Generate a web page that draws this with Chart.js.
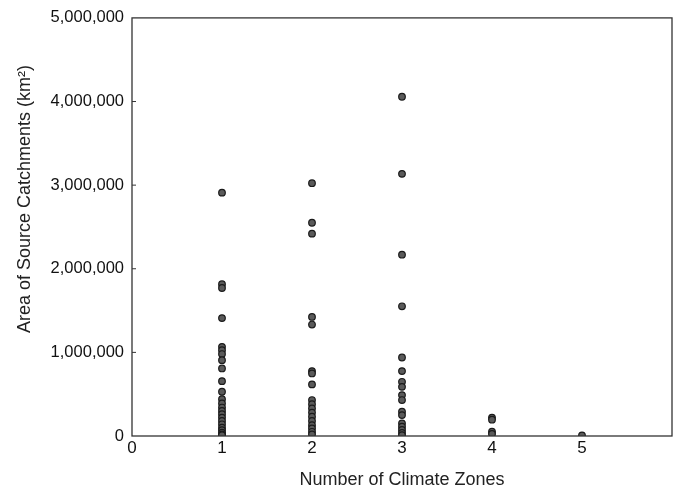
<!DOCTYPE html>
<html><head><meta charset="utf-8">
<script src="https://cdn.jsdelivr.net/npm/chart.js@4/dist/chart.umd.min.js"></script>
<style>html,body{margin:0;padding:0;background:#fff}#wrap{width:683px;height:491px}</style>
</head><body><div id="wrap"><canvas id="c" width="683" height="491"></canvas></div>
<script>
const zones1 = [2910000,1815000,1770000,1410000,1066000,1026000,980000,907000,808000,656000,529000,440000,390000,340000,300000,260000,220000,180000,140000,100000,70000,40000,20000,10000];
const zones2 = [3023000,2550000,2420000,1424000,1333000,776000,748000,617000,430000,380000,330000,280000,230000,180000,130000,90000,50000,20000];
const zones3 = [4057000,3135000,2168000,1551000,939000,776000,648000,588000,489000,430000,290000,250000,151000,111000,72000,36000,10000];
const zones4 = [220000,195000,51000,25000];
const zones5 = [8000];
const xTicks = [0,1,2,3,4,5];
const yTicks = [0,1000000,2000000,3000000,4000000,5000000];
const xTitle = 'Number of Climate Zones';
const yTitle = 'Area of Source Catchments (km²)';
const groups = [[1,zones1],[2,zones2],[3,zones3],[4,zones4],[5,zones5]];
const pts = [];
groups.forEach(([x,vals])=>vals.forEach(v=>pts.push({x:x,y:v})));

const boxPlugin = {
  id:'box',
  afterDraw(chart){
    const {ctx, chartArea:a, scales} = chart;
    ctx.save();
    ctx.strokeStyle='#333'; ctx.lineWidth=1.3;
    ctx.strokeRect(a.left, a.top, a.right-a.left, a.bottom-a.top);
    ctx.lineWidth=1;
    yTicks.forEach(v=>{ if(v===0||v===5000000) return;
      const y=scales.y.getPixelForValue(v);
      ctx.beginPath(); ctx.moveTo(a.left,y); ctx.lineTo(a.left+4,y); ctx.stroke();
    });
    // y axis title
    ctx.translate(25,199); ctx.rotate(-Math.PI/2);
    ctx.fillStyle='#222'; ctx.font='18px "Liberation Sans"';
    ctx.textAlign='center'; ctx.textBaseline='middle';
    ctx.fillText(yTitle,0,0);
    ctx.restore();
  }
};

new Chart(document.getElementById('c'),{
  type:'scatter',
  data:{datasets:[{data:pts,pointRadius:3.3,pointBackgroundColor:'#5a5a5a',pointBorderColor:'#1a1a1a',pointBorderWidth:1.2}]},
  options:{
    responsive:false,animation:false,
    layout:{padding:{left:8,right:11,top:17,bottom:0}},
    plugins:{legend:{display:false},tooltip:{enabled:false}},
    scales:{
      x:{type:'linear',min:0,max:6,
        afterBuildTicks(s){s.ticks=xTicks.map(v=>({value:v}));},
        afterFit(s){s.height=55;},
        grid:{display:false,drawTicks:false},border:{display:false},
        ticks:{color:'#111',font:{family:'Liberation Sans',size:17},padding:2},
        title:{display:true,text:xTitle,color:'#222',font:{family:'Liberation Sans',size:18},padding:{top:4,bottom:0}}
      },
      y:{type:'linear',min:0,max:5000000,
        afterBuildTicks(s){s.ticks=yTicks.map(v=>({value:v}));},
        afterFit(s){s.width=124;},
        grid:{display:false,drawTicks:false},border:{display:false},
        ticks:{color:'#111',font:{family:'Liberation Sans',size:16.5},padding:8,
          callback:v=>v.toLocaleString('en-US')},
        title:{display:false}
      }
    }
  },
  plugins:[boxPlugin]
});
</script></body></html>
